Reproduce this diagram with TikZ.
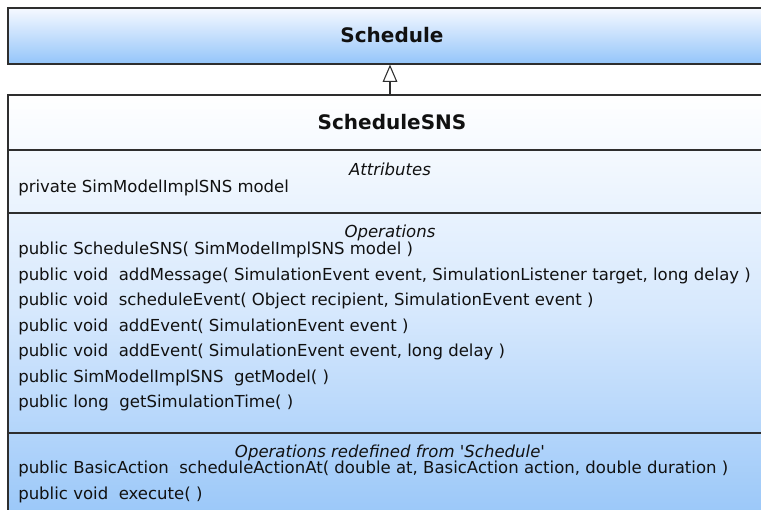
\documentclass[tikz,border=0pt]{standalone}
\usepackage{fontspec}
\setmainfont{DejaVu Sans}
\usetikzlibrary{arrows.meta}
\definecolor{umlline}{HTML}{2E2E2E}
\definecolor{umltxt}{HTML}{111111}
\definecolor{schedtop}{HTML}{F6F9FF}
\definecolor{schedbot}{HTML}{94C5FA}
\definecolor{snstop}{HTML}{FFFFFF}
\definecolor{snsmid}{HTML}{D6E8FD}
\definecolor{snsbot}{HTML}{96C5F8}
\tikzset{
  classbox/.style={draw=umlline, line width=1.2pt, rectangle, inner sep=0pt},
  classtitle/.style={font=\bfseries\fontsize{15pt}{18pt}\selectfont, text=umltxt, inner sep=0pt},
  sectlabel/.style={font=\itshape\fontsize{12.4pt}{14pt}\selectfont, text=umltxt, inner sep=0pt, anchor=base},
  member/.style={font=\fontsize{12.4pt}{14pt}\selectfont, text=umltxt, inner sep=0pt, anchor=base west},
  sepline/.style={draw=umlline, line width=1.2pt},
  inherit/.style={draw=umlline, line width=0.8pt, -{Triangle[open, width=11pt, length=13pt, line width=0.8pt]}}
}
\begin{document}
\begin{tikzpicture}[x=0.75pt, y=-0.75pt]
\useasboundingbox (0,0) rectangle (761,510);
\clip (0,0) rectangle (761,510);
% Schedule
\node[classbox, top color=schedtop, bottom color=schedbot, minimum width=574.5pt, minimum height=42pt, anchor=north west] (schedule) at (7,7) {};
\node[classtitle] (schedtitle) at (392,35) {Schedule};
% ScheduleSNS
\node[classbox, top color=snstop, bottom color=snsbot, middle color=snsmid, minimum width=574.5pt, minimum height=327pt, anchor=north west] (sns) at (7,94) {};
\node[classtitle] (snstitle) at (392,122) {ScheduleSNS};
\coordinate (arrx) at (390,0);
\coordinate (s1w) at (7,150); \coordinate (s1e) at (773,150);
\coordinate (s2w) at (7,213); \coordinate (s2e) at (773,213);
\coordinate (s3w) at (7,433); \coordinate (s3e) at (773,433);
\draw[sepline] (s1w) -- (s1e);
\draw[sepline] (s2w) -- (s2e);
\draw[sepline] (s3w) -- (s3e);
% Attributes
\node[sectlabel] (attrl) at (390,175.5) {Attributes};
\node[member] (a1) at (18,192.5) {private SimModelImplSNS model};
% Operations
\node[sectlabel] (opsl) at (390,237.5) {Operations};
\node[member] (o1) at (18,254.5) {public ScheduleSNS( SimModelImplSNS model )};
\node[member] (o2) at (18,280) {public void\ \ addMessage( SimulationEvent event, SimulationListener target, long delay )};
\node[member] (o3) at (18,305.5) {public void\ \ scheduleEvent( Object recipient, SimulationEvent event )};
\node[member] (o4) at (18,331) {public void\ \ addEvent( SimulationEvent event )};
\node[member] (o5) at (18,356.5) {public void\ \ addEvent( SimulationEvent event, long delay )};
\node[member] (o6) at (18,382) {public SimModelImplSNS\ \ getModel( )};
\node[member] (o7) at (18,407.5) {public long\ \ getSimulationTime( )};
% Redefined
\node[sectlabel] (redl) at (390,457.5) {Operations redefined from \textquotesingle Schedule\textquotesingle};
\node[member] (r1) at (18,473.5) {public BasicAction\ \ scheduleActionAt( double at, BasicAction action, double duration )};
\node[member] (r2) at (18,499.5) {public void\ \ execute( )};
% inheritance
\draw[inherit] (sns.north -| arrx) -- (schedule.south -| arrx);
\end{tikzpicture}
\end{document}
